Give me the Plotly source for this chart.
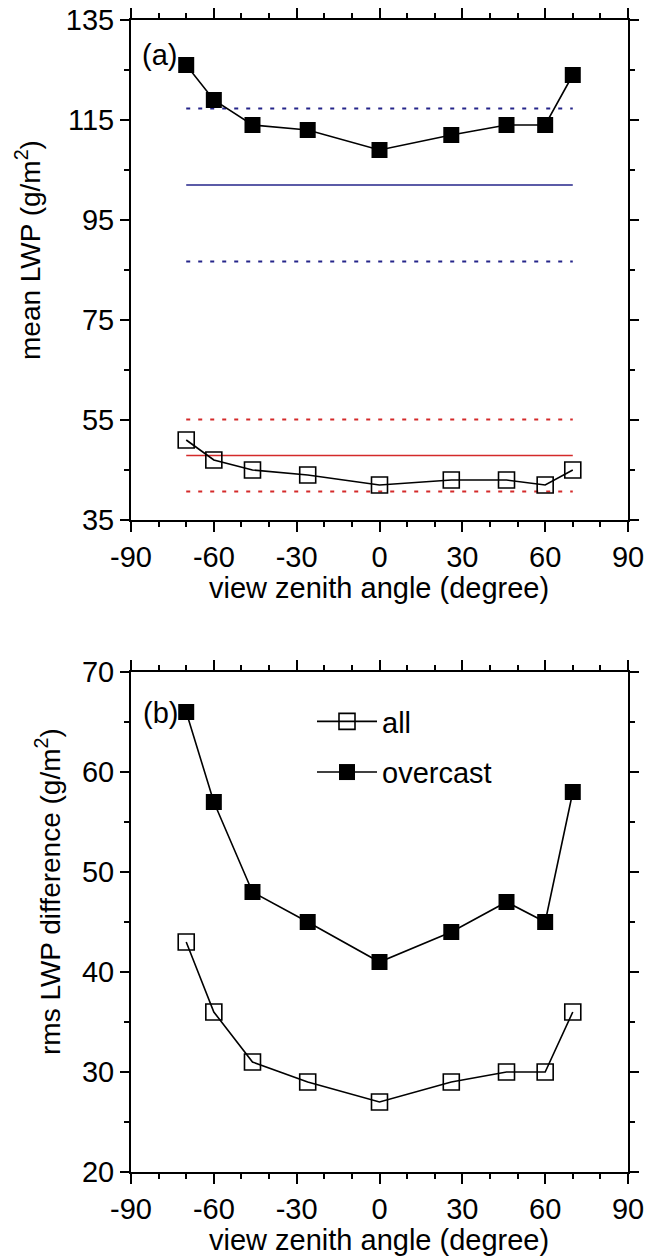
import plotly.graph_objects as go

# ---------------- data ----------------
vza = [-70, -60, -46, -26, 0, 26, 46, 60, 70]

# panel (a): mean LWP (g/m2)
mean_all = [51, 47, 45, 44, 42, 43, 43, 42, 45]
mean_overcast = [126, 119, 114, 113, 109, 112, 114, 114, 124]

# reference (horizontal) lines in panel (a)
ref_x = [-70, 70]
ref_overcast_mean = 102
ref_overcast_lo = 86.7
ref_overcast_hi = 117.3
ref_all_mean = 47.9
ref_all_lo = 40.7
ref_all_hi = 55.1

# panel (b): rms LWP difference (g/m2)
rms_all = [43, 36, 31, 29, 27, 29, 30, 30, 36]
rms_overcast = [66, 57, 48, 45, 41, 44, 47, 45, 58]

x_tickvals = [-90, -60, -30, 0, 30, 60, 90]
x_ticktext = ["-90", "-60", "-30", "0", "30", "60", "90"]
ya_tickvals = [35, 55, 75, 95, 115, 135]
yb_tickvals = [20, 30, 40, 50, 60, 70]

# ---------------- layout helpers ----------------
W, H = 647, 1258
FONT = "Liberation Sans, Arial, Helvetica, sans-serif"
FS = 29
FSY = 28
BLUE = "#25258a"
RED = "#d42a2a"


def px(x):
    return x / W


def py(y):
    return 1 - y / H


fig = go.Figure()

# panel (a) reference lines
for val, dash, col in [
    (ref_overcast_hi, "4px,8px", BLUE),
    (ref_overcast_mean, "solid", BLUE),
    (ref_overcast_lo, "4px,8px", BLUE),
    (ref_all_hi, "4px,8px", RED),
    (ref_all_mean, "solid", RED),
    (ref_all_lo, "4px,8px", RED),
]:
    fig.add_trace(go.Scatter(
        x=ref_x, y=[val] * len(ref_x), mode="lines",
        line=dict(color=col, width=2 if dash != "solid" else 1.6, dash=dash),
        xaxis="x", yaxis="y", showlegend=False, hoverinfo="skip"))

fig.add_trace(go.Scatter(
    x=vza, y=mean_overcast, mode="lines+markers",
    line=dict(color="black", width=1.6),
    marker=dict(symbol="square", size=16, color="black"),
    xaxis="x", yaxis="y", showlegend=False))
fig.add_trace(go.Scatter(
    x=vza, y=mean_all, mode="lines+markers",
    line=dict(color="black", width=1.6),
    marker=dict(symbol="square-open", size=16, color="black", line=dict(width=1.6)),
    xaxis="x", yaxis="y", showlegend=False))

# panel (b)
fig.add_trace(go.Scatter(
    x=vza, y=rms_all, mode="lines+markers", name="all", legendgroup="a",
    line=dict(color="black", width=1.6),
    marker=dict(symbol="square-open", size=16, color="black", line=dict(width=1.6)),
    xaxis="x2", yaxis="y2"))
fig.add_trace(go.Scatter(
    x=vza, y=rms_overcast, mode="lines+markers", name="overcast", legendgroup="b",
    line=dict(color="black", width=1.6),
    marker=dict(symbol="square", size=16, color="black"),
    xaxis="x2", yaxis="y2"))

xdom = [px(131), px(628)]
ax_common = dict(
    showline=True, linecolor="black", linewidth=2, mirror="ticks",
    ticks="outside", tickwidth=2, tickcolor="black",
    showgrid=False, zeroline=False, automargin=False,
    tickfont=dict(family=FONT, size=FS, color="black"),
)

xa = dict(ax_common, range=[-90, 90], domain=xdom, tickvals=x_tickvals, ticktext=x_ticktext,
          ticklen=10,
          minor=dict(ticks="outside", ticklen=5, tickwidth=1.5, tickcolor="black",
                     tickvals=list(range(-90, 91, 10)), showgrid=False),
          ticklabelstandoff=0)

ya_minor = dict(ticks="outside", ticklen=5, tickwidth=1.5, tickcolor="black", showgrid=False)

layout = dict(
    width=W, height=H,
    margin=dict(l=0, r=0, t=0, b=0, autoexpand=False),
    paper_bgcolor="white", plot_bgcolor="white",
    font=dict(family=FONT, size=FS, color="black"),
    xaxis=dict(xa, anchor="y"),
    yaxis=dict(ax_common, range=[35, 135], domain=[py(520), py(20)], anchor="x",
               tickvals=ya_tickvals, ticklen=9,
               minor=dict(ya_minor, tickvals=list(range(35, 136, 10))),
               ticklabelstandoff=0),
    xaxis2=dict(xa, anchor="y2"),
    yaxis2=dict(ax_common, range=[20, 70], domain=[py(1172), py(672)], anchor="x2",
                tickvals=yb_tickvals, ticklen=9,
                minor=dict(ya_minor, tickvals=list(range(20, 71, 5))),
                ticklabelstandoff=0),
    legend=dict(x=px(312), y=py(696), xanchor="left", yanchor="top",
                bgcolor="rgba(0,0,0,0)", font=dict(family=FONT, size=FS),
                tracegroupgap=10, itemwidth=60),
    annotations=[
        dict(text="(a)", x=px(140), y=py(55), xref="paper", yref="paper",
             xanchor="left", yanchor="middle", showarrow=False, font=dict(size=FS)),
        dict(text="(b)", x=px(141), y=py(713), xref="paper", yref="paper",
             xanchor="left", yanchor="middle", showarrow=False, font=dict(size=FS)),
        dict(text="view zenith angle (degree)", x=px(379), y=py(588), xref="paper", yref="paper",
             xanchor="center", yanchor="middle", showarrow=False, font=dict(size=FS)),
        dict(text="view zenith angle (degree)", x=px(379), y=py(1240), xref="paper", yref="paper",
             xanchor="center", yanchor="middle", showarrow=False, font=dict(size=FS)),
        dict(text="mean LWP (g/m<sup>2</sup>)", x=px(28), y=py(250), xref="paper", yref="paper",
             xanchor="center", yanchor="middle", textangle=-90, showarrow=False, font=dict(size=FSY)),
        dict(text="rms LWP difference (g/m<sup>2</sup>)", x=px(48), y=py(892), xref="paper", yref="paper",
             xanchor="center", yanchor="middle", textangle=-90, showarrow=False, font=dict(size=FSY)),
    ],
)
fig.update_layout(layout)
fig.write_html("out.html", config={"displayModeBar": False},
               post_script="document.body.style.margin='0';")
